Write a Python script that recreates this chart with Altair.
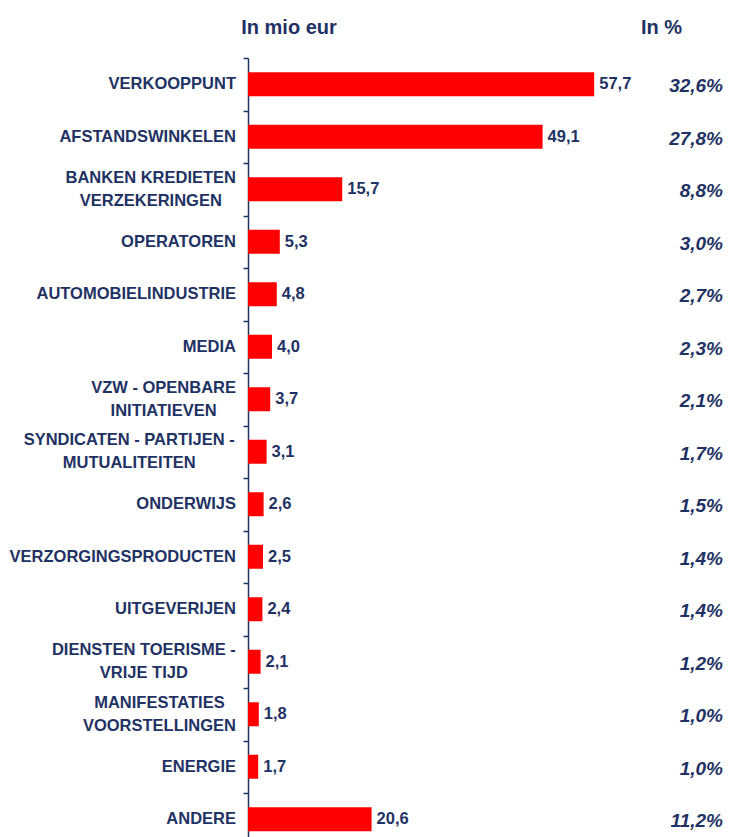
import altair as alt
import pandas as pd

# ---------------- data ----------------
categories = [
    "VERKOOPPUNT",
    "AFSTANDSWINKELEN",
    "BANKEN KREDIETEN|VERZEKERINGEN",
    "OPERATOREN",
    "AUTOMOBIELINDUSTRIE",
    "MEDIA",
    "VZW - OPENBARE|INITIATIEVEN",
    "SYNDICATEN - PARTIJEN -|MUTUALITEITEN",
    "ONDERWIJS",
    "VERZORGINGSPRODUCTEN",
    "UITGEVERIJEN",
    "DIENSTEN TOERISME -|VRIJE TIJD",
    "MANIFESTATIES|VOORSTELLINGEN",
    "ENERGIE",
    "ANDERE",
]
values_mio = [57.7, 49.1, 15.7, 5.3, 4.8, 4.0, 3.7, 3.1, 2.6, 2.5, 2.4, 2.1, 1.8, 1.7, 20.6]
percents = [32.6, 27.8, 8.8, 3.0, 2.7, 2.3, 2.1, 1.7, 1.5, 1.4, 1.4, 1.2, 1.0, 1.0, 11.2]
header_left = "In mio eur"
header_right = "In %"

# ---------------- styling ----------------
NAVY = "#1F3264"
RED = "#FF0000"
FONT = "Liberation Sans"
LABEL_SIZE = 16.5
PLOT_W = 482
PLOT_H = 787.5
LABEL_GAP = 12

# Arial/Liberation Sans Bold advance widths (em) for centring two-line labels
ARIAL_BOLD = {
    "A": .722, "B": .722, "C": .722, "D": .722, "E": .667, "F": .611, "G": .778,
    "H": .722, "I": .278, "J": .556, "K": .722, "L": .611, "M": .833, "N": .722,
    "O": .778, "P": .667, "Q": .778, "R": .722, "S": .667, "T": .611, "U": .722,
    "V": .667, "W": .944, "X": .667, "Y": .667, "Z": .611, " ": .278, "-": .333,
}


def text_width(s, size):
    return sum(ARIAL_BOLD.get(c, 0.667) for c in s) * size


def comma(v, suffix=""):
    return f"{v:.1f}".replace(".", ",") + suffix


df = pd.DataFrame({
    "cat": categories,
    "value": values_mio,
    "vlabel": [comma(v) for v in values_mio],
    "plabel": [comma(p, "%") for p in percents],
})

line_rows = []
for cat in categories:
    parts = cat.split("|")
    if len(parts) == 1:
        line_rows.append({"cat": cat, "text": parts[0], "pos": "single", "xc": 0.0})
    else:
        wmax = max(text_width(t, LABEL_SIZE) for t in parts)
        for j, t in enumerate(parts):
            line_rows.append({
                "cat": cat, "text": t, "pos": "top" if j == 0 else "bottom",
                "xc": -LABEL_GAP - wmax / 2,
            })
lines = pd.DataFrame(line_rows)

y_scale = alt.Scale(domain=categories, range=[0, PLOT_H], paddingInner=0, paddingOuter=0)
y_axis = alt.Axis(
    labels=False, title=None, grid=False, ticks=True, tickBand="extent",
    domainColor=NAVY, domainWidth=1.5, tickColor=NAVY, tickWidth=1.5, tickSize=5,
)
y_enc = alt.Y("cat:N", sort=categories, scale=y_scale, axis=y_axis)

base = alt.Chart(df)

bars = base.mark_bar(color=RED, size=24).encode(
    x=alt.X("value:Q", scale=alt.Scale(domain=[0, PLOT_W / 6.0], nice=False), axis=None),
    y=y_enc,
)

value_text = base.mark_text(
    align="left", baseline="middle", dx=5, font=FONT, fontSize=16.5,
    fontWeight="bold", color=NAVY,
).encode(x=alt.X("value:Q", axis=None), y=y_enc, text="vlabel:N")

pct_text = base.mark_text(
    align="right", baseline="middle", dy=2, font=FONT, fontSize=19,
    fontWeight="bold", fontStyle="italic", color=NAVY,
).encode(x=alt.value(475), y=y_enc, text="plabel:N")

lab_base = alt.Chart(lines)
single = lab_base.transform_filter("datum.pos == 'single'").mark_text(
    align="right", baseline="middle", font=FONT, fontSize=LABEL_SIZE,
    fontWeight="bold", color=NAVY,
).encode(x=alt.value(-LABEL_GAP), y=y_enc, text="text:N")

top = lab_base.transform_filter("datum.pos == 'top'").mark_text(
    align="center", baseline="middle", dy=-11.5, font=FONT, fontSize=LABEL_SIZE,
    fontWeight="bold", color=NAVY,
).encode(x=alt.X("xc:Q", scale=None), y=y_enc, text="text:N")

bottom = lab_base.transform_filter("datum.pos == 'bottom'").mark_text(
    align="center", baseline="middle", dy=11.5, font=FONT, fontSize=LABEL_SIZE,
    fontWeight="bold", color=NAVY,
).encode(x=alt.X("xc:Q", scale=None), y=y_enc, text="text:N")

head_l = alt.Chart(pd.DataFrame({"t": [header_left]})).mark_text(
    align="center", baseline="middle", font=FONT, fontSize=20, fontWeight="bold", color=NAVY,
).encode(x=alt.value(41), y=alt.value(-30), text="t:N")

head_r = alt.Chart(pd.DataFrame({"t": [header_right]})).mark_text(
    align="left", baseline="middle", font=FONT, fontSize=20, fontWeight="bold", color=NAVY,
).encode(x=alt.value(393), y=alt.value(-30), text="t:N")

chart = alt.layer(
    bars, value_text, pct_text, single, top, bottom, head_l, head_r
).properties(
    width=PLOT_W,
    height=779,
    autosize="none",
    padding={"left": 248, "top": 58, "right": 0, "bottom": 0},
    background="white",
).configure_view(stroke=None)

chart.save("out.html", embed_options={"renderer": "svg", "actions": False})
